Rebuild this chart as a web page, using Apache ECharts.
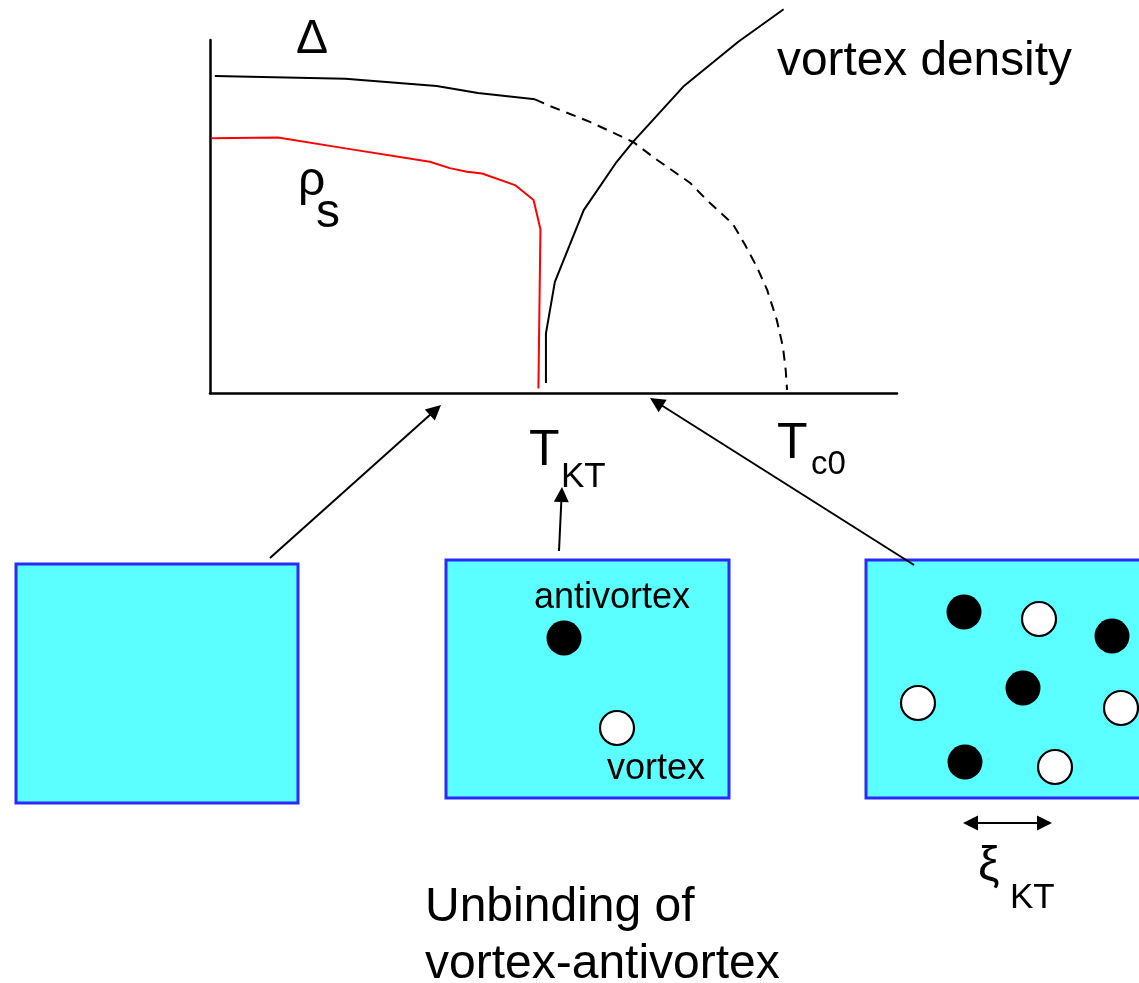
<!DOCTYPE html>
<html>
<head>
<meta charset="utf-8">
<script src="https://cdn.jsdelivr.net/npm/echarts@6/dist/echarts.min.js"></script>
<style>
  html, body { margin: 0; padding: 0; background: #ffffff; }
  #chart { width: 1139px; height: 983px; }
</style>
</head>
<body>
<div id="chart"></div>
<script>
// Phase diagram: temperature T (arbitrary units, 0..100) against order parameters (arbitrary units)
const gapSolid = [[0.7, 89.8], [19.7, 89.0], [33.0, 87.0], [39.0, 85.0], [47.3, 83.2]];
const gapDashed = [[47.3, 83.2], [49.1, 81.6], [55.3, 76.8], [61.6, 71.1], [65.1, 66.0], [69.9, 59.5],
  [72.3, 54.7], [76.1, 47.9], [77.9, 41.9], [79.6, 35.7], [81.1, 29.2], [82.5, 20.7], [83.4, 13.0],
  [83.8, 6.5], [84.0, 0.9]];
const superfluidDensity = [[0.2, 72.2], [9.9, 72.4], [19.7, 69.3], [32.0, 65.5], [34.9, 63.7], [37.4, 62.7],
  [39.6, 62.2], [44.4, 58.9], [47.1, 54.7], [48.1, 46.4], [47.8, 1.3]];
const vortexDensity = [[48.9, 2.8], [48.9, 16.9], [50.2, 31.5], [54.4, 51.8], [59.2, 65.5], [61.6, 71.2],
  [68.9, 86.8], [76.9, 99.5], [83.5, 108.7]];

// Sketch panels below the axis (panel units: 10 px each, y grows downward)
const panels = [[1.6, 16.4, 29.8, 40.3], [44.6, 16.0, 72.9, 39.8], [86.6, 16.0, 120.0, 39.8]];
const antivortices = [[56.4, 23.8], [96.4, 21.2], [111.2, 23.6], [102.3, 28.8], [96.5, 36.2]];
const vortices = [[61.7, 32.8], [103.9, 21.9], [91.8, 30.3], [112.1, 30.8], [105.5, 36.7]];
const pointers = [[[27.0, 15.8], [44.1, 0.5]], [[55.9, 15.1], [56.2, 8.7]], [[91.4, 16.5], [65.0, -0.2]]];
const spacing = [[96.3, 42.3], [105.2, 42.3]];

const FONT = "'Liberation Sans', Arial, Helvetica, sans-serif";
const HEAD = 15;         // arrow head size, px
const UNIT = 10;         // px per panel unit

// pull an end point back so the arrow head's tip lands on it
function pullBack(from, to) {
  const dx = to[0] - from[0], dy = to[1] - from[1];
  const len = Math.hypot(dx, dy);
  const k = (HEAD / 2 / UNIT) / len;
  return [to[0] - dx * k, to[1] - dy * k];
}

// text placed by its left edge and baseline
function label(text, x, baseline, size) {
  return {
    type: 'text', x: x, y: baseline - 0.285 * size, silent: true, z: 100,
    style: { text: text, font: size + 'px ' + FONT, fill: '#000', align: 'left', verticalAlign: 'middle' }
  };
}

const hiddenAxis = {
  axisLabel: { show: false }, axisTick: { show: false }, splitLine: { show: false }, axisLine: { show: false }
};
const plotAxisLine = { show: true, lineStyle: { color: '#000', width: 2.5 } };

const chart = echarts.init(document.getElementById('chart'), null, { renderer: 'canvas' });

chart.setOption({
  animation: false,
  backgroundColor: '#ffffff',
  grid: [
    { left: 210, top: 40, width: 687, height: 353 },
    { left: 0, top: 400, width: 1139, height: 440 }
  ],
  xAxis: [
    { gridIndex: 0, type: 'value', min: 0, max: 100, axisLabel: { show: false }, axisTick: { show: false },
      splitLine: { show: false }, axisLine: plotAxisLine },
    Object.assign({ gridIndex: 1, type: 'value', min: 0, max: 113.9 }, hiddenAxis)
  ],
  yAxis: [
    { gridIndex: 0, type: 'value', min: 0, max: 100, axisLabel: { show: false }, axisTick: { show: false },
      splitLine: { show: false }, axisLine: plotAxisLine },
    Object.assign({ gridIndex: 1, type: 'value', min: 0, max: 44, inverse: true }, hiddenAxis)
  ],
  series: [
    {
      name: 'Δ', type: 'line', xAxisIndex: 0, yAxisIndex: 0, data: gapSolid, showSymbol: false, clip: false,
      lineStyle: { color: '#000', width: 2 }
    },
    {
      name: 'Δ (mean field)', type: 'line', xAxisIndex: 0, yAxisIndex: 0, data: gapDashed, showSymbol: false, clip: false,
      lineStyle: { color: '#000', width: 2, type: [10, 7] }
    },
    {
      name: 'ρs', type: 'line', xAxisIndex: 0, yAxisIndex: 0, data: superfluidDensity, showSymbol: false, clip: false,
      lineStyle: { color: '#ff0000', width: 2 }
    },
    {
      name: 'vortex density', type: 'line', xAxisIndex: 0, yAxisIndex: 0, data: vortexDensity, showSymbol: false, clip: false,
      lineStyle: { color: '#000', width: 2 }
    },
    {
      name: 'panels', type: 'custom', xAxisIndex: 1, yAxisIndex: 1, data: panels, clip: false, z: 1,
      renderItem: function (params, api) {
        const a = api.coord([api.value(0), api.value(1)]);
        const b = api.coord([api.value(2), api.value(3)]);
        return {
          type: 'rect',
          shape: { x: a[0], y: a[1], width: b[0] - a[0], height: b[1] - a[1] },
          style: { fill: '#5cffff', stroke: '#2a2aff', lineWidth: 3 }
        };
      }
    },
    {
      name: 'antivortex', type: 'scatter', xAxisIndex: 1, yAxisIndex: 1, data: antivortices, z: 3,
      symbol: 'circle', symbolSize: 35, itemStyle: { color: '#000', opacity: 1 }
    },
    {
      name: 'vortex', type: 'scatter', xAxisIndex: 1, yAxisIndex: 1, data: vortices, z: 3,
      symbol: 'circle', symbolSize: 34, itemStyle: { color: '#fff', borderColor: '#000', borderWidth: 2.2, opacity: 1 }
    },
    {
      name: 'pointers', type: 'lines', coordinateSystem: 'cartesian2d', xAxisIndex: 1, yAxisIndex: 1, clip: false, z: 4,
      symbol: ['none', 'triangle'], symbolSize: HEAD,
      lineStyle: { color: '#000', width: 2, opacity: 1, curveness: 0 },
      itemStyle: { color: '#000' },
      data: pointers.map(function (p) { return { coords: [p[0], pullBack(p[0], p[1])] }; })
    },
    {
      name: 'spacing', type: 'lines', coordinateSystem: 'cartesian2d', xAxisIndex: 1, yAxisIndex: 1, clip: false, z: 4,
      symbol: ['triangle', 'triangle'], symbolSize: HEAD,
      lineStyle: { color: '#000', width: 2, opacity: 1, curveness: 0 },
      data: [{ coords: [pullBack(spacing[1], spacing[0]), pullBack(spacing[0], spacing[1])] }]
    }
  ],
  graphic: {
    elements: [
      label('Δ', 296, 53, 48),
      label('ρ', 298, 195, 48),
      label('s', 316, 227, 48),
      label('vortex density', 777, 75, 47.8),
      label('T', 529, 465, 50),
      label('KT', 561, 487, 35),
      label('T', 777, 458, 50),
      label('c0', 811, 474, 33),
      label('antivortex', 534, 608, 36),
      label('vortex', 607, 779, 36),
      label('Unbinding of', 425, 921, 48),
      label('vortex-antivortex', 425, 978, 48),
      label('ξ', 978, 880, 48),
      label('KT', 1010, 908, 35)
    ]
  }
});
</script>
</body>
</html>
